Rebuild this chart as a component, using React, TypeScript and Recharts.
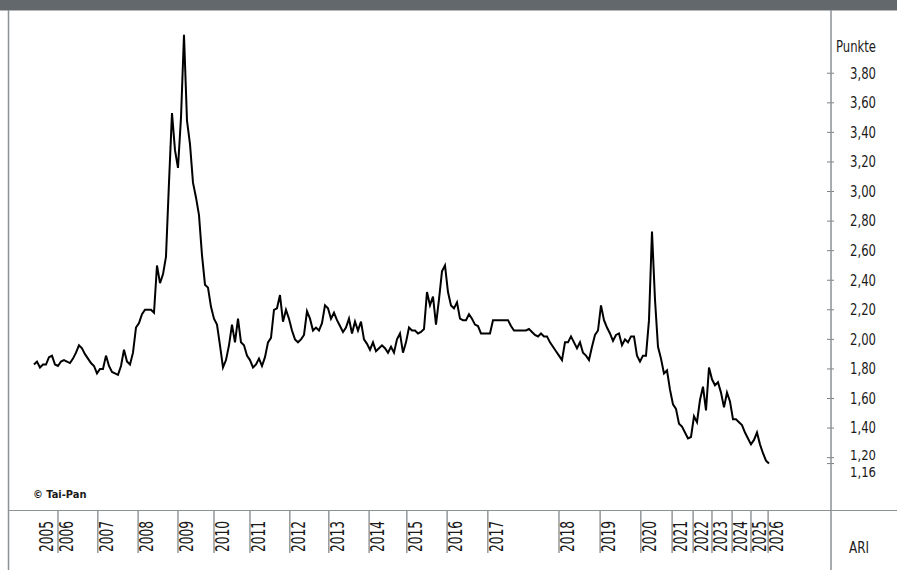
import { LineChart, Line, XAxis, YAxis } from 'recharts'

const FONT = '"Liberation Sans Narrow", "DejaVu Sans Condensed", "Liberation Sans", sans-serif'

// ARI-Werte, eine Beobachtung pro Index (Handelstage zusammengefasst)
const values = [
  1.83, 1.85, 1.81, 1.83, 1.83, 1.88, 1.89, 1.83, 1.82, 1.85,
  1.86, 1.85, 1.84, 1.87, 1.91, 1.96, 1.94, 1.90, 1.87, 1.84,
  1.82, 1.77, 1.80, 1.80, 1.89, 1.82, 1.78, 1.77, 1.76, 1.82,
  1.93, 1.85, 1.83, 1.91, 2.08, 2.11, 2.17, 2.20, 2.20, 2.20,
  2.18, 2.50, 2.38, 2.44, 2.56, 3.06, 3.53, 3.28, 3.16, 3.50,
  4.06, 3.48, 3.32, 3.06, 2.96, 2.84, 2.57, 2.37, 2.35, 2.22,
  2.14, 2.10, 1.96, 1.81, 1.86, 1.96, 2.10, 1.98, 2.14, 1.98,
  1.96, 1.89, 1.86, 1.81, 1.83, 1.87, 1.82, 1.88, 1.98, 2.01,
  2.20, 2.21, 2.30, 2.12, 2.20, 2.14, 2.06, 2.00, 1.98, 2.00,
  2.03, 2.19, 2.14, 2.06, 2.08, 2.06, 2.11, 2.23, 2.21, 2.14,
  2.18, 2.13, 2.09, 2.05, 2.08, 2.14, 2.04, 2.12, 2.06, 2.12,
  2.00, 1.97, 1.93, 1.98, 1.92, 1.94, 1.96, 1.94, 1.91, 1.95,
  1.91, 2.00, 2.04, 1.91, 1.98, 2.08, 2.06, 2.06, 2.04, 2.05,
  2.07, 2.32, 2.23, 2.29, 2.10, 2.27, 2.46, 2.50, 2.32, 2.23,
  2.21, 2.25, 2.14, 2.13, 2.13, 2.17, 2.14, 2.10, 2.09, 2.04,
  2.04, 2.04, 2.04, 2.13, 2.13, 2.13, 2.13, 2.13, 2.13, 2.09,
  2.06, 2.06, 2.06, 2.06, 2.06, 2.07, 2.05, 2.03, 2.02, 2.04,
  2.02, 2.02, 1.98, 1.95, 1.92, 1.89, 1.86, 1.98, 1.98, 2.02,
  1.98, 1.94, 1.98, 1.91, 1.89, 1.86, 1.95, 2.03, 2.06, 2.23,
  2.13, 2.08, 2.04, 1.99, 2.03, 2.04, 1.96, 2.00, 1.98, 2.02,
  2.02, 1.89, 1.85, 1.89, 1.89, 2.13, 2.73, 2.27, 1.95, 1.87,
  1.77, 1.79, 1.66, 1.56, 1.53, 1.43, 1.41, 1.37, 1.33, 1.34,
  1.48, 1.44, 1.59, 1.68, 1.52, 1.81, 1.73, 1.69, 1.71, 1.64,
  1.54, 1.64, 1.58, 1.46, 1.46, 1.44, 1.42, 1.37, 1.33, 1.29,
  1.32, 1.37, 1.29, 1.23, 1.18, 1.16,
]

const yearLabels = [
  '2005', '2006', '2007', '2008', '2009', '2010', '2011', '2012', '2013', '2014', '2015',
  '2016', '2017', '2018', '2019', '2020', '2021', '2022', '2023', '2024', '2025', '2026',
]
// Index der ersten Beobachtung im jeweiligen Jahr
const yearStarts = [
  1.3, 8, 21.3, 34.7, 48, 60, 72, 85.3, 98.3, 111.7, 124.3,
  137.7, 151.3, 175, 188.7, 202.3, 212.7, 219.7, 226, 232.7, 239, 244.7,
]

const yTicks = [3.8, 3.6, 3.4, 3.2, 3.0, 2.8, 2.6, 2.4, 2.2, 2.0, 1.8, 1.6, 1.4, 1.2, 1.16]

const data = values.map((v, i) => ({ i, v }))

function YearTick(props: any) {
  const { x, y, payload } = props
  const idx = yearStarts.indexOf(payload.value)
  return (
    <g>
      {idx > 0 && <line x1={x} y1={y} x2={x} y2={y + 43} stroke="#5f6468" strokeWidth={1} />}
      <text
        transform={`translate(${x + 15},${y + 42}) rotate(-90)`}
        fontSize={20}
        fontFamily={FONT}
        fill="#1a1a1a"
        textLength={31}
        lengthAdjust="spacingAndGlyphs"
      >
        {yearLabels[idx]}
      </text>
    </g>
  )
}

function ValueTick(props: any) {
  const { x, y, payload } = props
  const v = payload.value as number
  // die beiden untersten Marken liegen eng beieinander
  const low = v === 1.16 || v === 1.2
  const dy = v === 1.16 ? 9 : v === 1.2 ? -3 : 0
  return (
    <g>
      <line x1={x - 4} x2={x + 3} y1={y} y2={y} stroke="#7d8286" strokeWidth={1} />
      <text
        x={x + 45}
        y={y + dy}
        dy="0.36em"
        textAnchor="end"
        fontSize={low ? 13.5 : 15}
        fontFamily={FONT}
        fill="#1a1a1a"
        textLength={26}
        lengthAdjust="spacingAndGlyphs"
      >
        {v.toFixed(2).replace('.', ',')}
      </text>
    </g>
  )
}

export default function App() {
  return (
    <div style={{ position: 'absolute', left: 0, top: 0, width: 897, height: 570, background: '#fff' }}>
      <LineChart width={897} height={570} data={data} margin={{ top: 11, right: 0, bottom: 0, left: 9 }}>
        <XAxis
          dataKey="i"
          type="number"
          domain={[-8.33, 265.67]}
          ticks={yearStarts}
          interval={0}
          tick={<YearTick />}
          tickLine={false}
          axisLine={false}
          tickSize={0}
          tickMargin={0}
          height={60}
          allowDataOverflow
        />
        <YAxis
          orientation="right"
          type="number"
          domain={[0.846, 4.221]}
          ticks={yTicks}
          interval={0}
          tick={<ValueTick />}
          tickLine={false}
          axisLine={false}
          tickSize={0}
          tickMargin={0}
          width={66}
          allowDataOverflow
        />
        <Line
          type="linear"
          dataKey="v"
          stroke="#000"
          strokeWidth={2}
          dot={false}
          isAnimationActive={false}
        />
      </LineChart>
      <svg
        width={897}
        height={570}
        style={{ position: 'absolute', left: 0, top: 0, pointerEvents: 'none' }}
      >
        <rect x={0} y={0} width={897} height={10} fill="#62686b" />
        <line x1={0} x2={897} y1={10.5} y2={10.5} stroke="#b3b7ba" />
        <line x1={8.5} x2={8.5} y1={10} y2={570} stroke="#8c9194" strokeWidth={1.5} />
        <line x1={831} x2={831} y1={10} y2={570} stroke="#8c9194" strokeWidth={1.5} />
        <line x1={8} x2={897} y1={510.5} y2={510.5} stroke="#8c9194" strokeWidth={1.2} />
        <text
          x={876}
          y={46.7}
          dy="0.36em"
          textAnchor="end"
          fontSize={15}
          fontFamily={FONT}
          fill="#1a1a1a"
          textLength={40}
          lengthAdjust="spacingAndGlyphs"
        >
          Punkte
        </text>
        <text
          x={849}
          y={553}
          fontSize={15}
          fontFamily={FONT}
          fill="#1a1a1a"
          textLength={20}
          lengthAdjust="spacingAndGlyphs"
        >
          ARI
        </text>
        <text x={33} y={497.5} fontSize={11} fontWeight="bold" fontFamily={FONT} fill="#1a1a1a">
          © Tai-Pan
        </text>
      </svg>
    </div>
  )
}
